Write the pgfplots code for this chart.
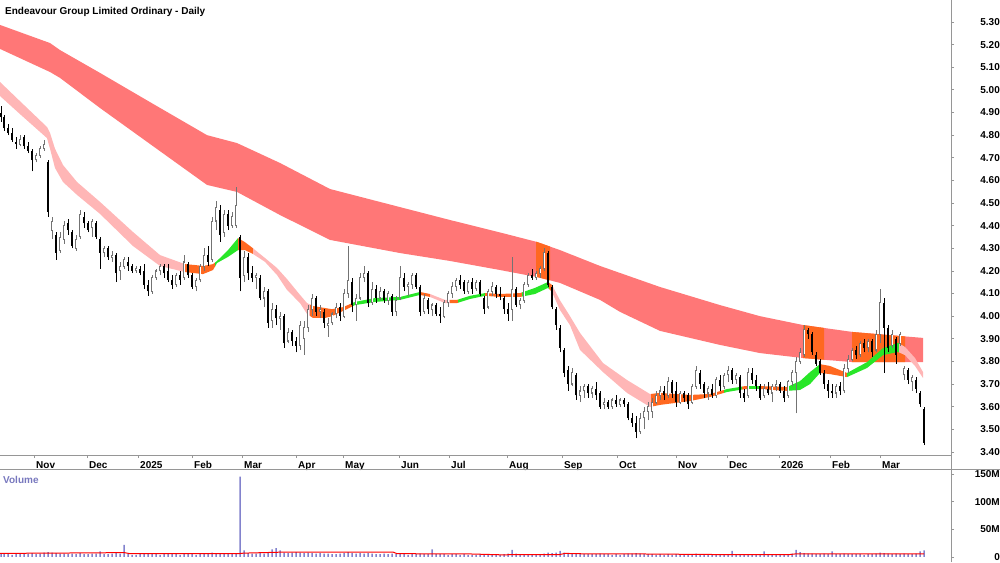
\documentclass[border=0pt]{standalone}
\usepackage{fontspec}
\setmainfont{Liberation Sans}
\usepackage{pgfplots}
\usepackage{pgfplotstable}
\pgfplotsset{compat=1.18}
\usepgfplotslibrary{fillbetween}

\definecolor{bandred}{RGB}{255,119,119}
\definecolor{bandpink}{RGB}{255,182,182}
\definecolor{bandorange}{RGB}{255,104,32}
\definecolor{bandgreen}{RGB}{40,230,40}
\definecolor{volblue}{RGB}{130,130,205}
\definecolor{framegray}{RGB}{150,150,150}
\definecolor{volumetext}{RGB}{120,120,190}

\pgfplotstableread{
x o h l c v
1 4.90 4.93 4.86 4.88 5
4 4.88 4.89 4.82 4.83 6
8 4.83 4.85 4.80 4.81 5
12 4.81 4.83 4.77 4.78 4
16 4.77 4.79 4.74 4.76 5
20 4.76 4.80 4.75 4.78 6
24 4.79 4.80 4.74 4.75 5
28 4.75 4.77 4.72 4.73 6
32 4.73 4.74 4.64 4.69 7
36 4.69 4.72 4.68 4.71 5
40 4.71 4.75 4.70 4.74 6
44 4.74 4.78 4.73 4.76 8
48 4.68 4.69 4.44 4.46 9
52 4.38 4.44 4.34 4.42 8
56 4.36 4.37 4.25 4.28 7
60 4.29 4.37 4.28 4.35 6
64 4.34 4.42 4.32 4.40 6
68 4.41 4.43 4.36 4.38 5
72 4.37 4.38 4.30 4.31 6
76 4.30 4.36 4.29 4.34 5
80 4.35 4.47 4.34 4.45 7
84 4.44 4.46 4.39 4.41 5
88 4.41 4.42 4.37 4.38 5
92 4.39 4.43 4.35 4.42 6
96 4.41 4.42 4.34 4.35 6
100 4.34 4.35 4.21 4.28 10
104 4.28 4.31 4.26 4.30 5
108 4.30 4.31 4.25 4.26 5
112 4.26 4.29 4.24 4.27 6
116 4.27 4.28 4.15 4.19 7
120 4.20 4.24 4.16 4.22 6
124 4.22 4.26 4.21 4.25 22
128 4.24 4.26 4.20 4.22 5
132 4.22 4.23 4.19 4.20 4
136 4.20 4.22 4.19 4.21 4
140 4.21 4.22 4.18 4.19 5
144 4.20 4.23 4.12 4.14 6
148 4.14 4.16 4.09 4.11 6
152 4.11 4.18 4.10 4.17 5
156 4.17 4.21 4.16 4.20 5
160 4.20 4.23 4.18 4.22 4
164 4.22 4.23 4.17 4.19 5
168 4.20 4.23 4.15 4.16 5
172 4.16 4.18 4.12 4.14 6
176 4.14 4.19 4.13 4.18 5
180 4.18 4.20 4.14 4.16 4
184 4.17 4.27 4.16 4.24 6
188 4.23 4.24 4.17 4.18 5
192 4.18 4.19 4.12 4.13 5
196 4.13 4.17 4.11 4.16 4
200 4.16 4.23 4.15 4.22 5
204 4.22 4.30 4.20 4.27 6
208 4.27 4.31 4.22 4.24 5
212 4.25 4.44 4.24 4.42 8
216 4.42 4.51 4.38 4.48 7
220 4.47 4.49 4.33 4.36 6
224 4.37 4.47 4.35 4.45 6
228 4.45 4.47 4.38 4.40 5
232 4.40 4.46 4.39 4.44 6
236 4.40 4.57 4.39 4.49 7
240 4.35 4.36 4.11 4.17 145
244 4.18 4.29 4.15 4.26 12
248 4.26 4.28 4.16 4.19 7
252 4.19 4.22 4.15 4.17 6
256 4.17 4.19 4.12 4.18 6
260 4.17 4.18 4.07 4.08 7
264 4.08 4.13 4.04 4.11 6
268 4.11 4.12 3.95 3.97 9
272 3.98 4.06 3.95 4.03 14
276 4.03 4.05 3.96 3.99 16
280 3.99 4.02 3.94 4.00 12
284 4.00 4.01 3.86 3.88 8
288 3.89 3.95 3.88 3.93 7
292 3.93 3.94 3.87 3.89 8
296 3.89 3.91 3.84 3.87 9
300 3.87 3.98 3.85 3.96 8
304 3.90 3.98 3.83 3.95 7
308 3.95 4.05 3.93 4.03 8
312 4.03 4.10 4.00 4.08 7
316 4.08 4.09 4.00 4.02 6
320 4.02 4.05 3.99 4.03 7
324 4.02 4.03 3.95 3.97 6
328 3.96 3.99 3.91 3.97 6
332 3.97 4.02 3.96 4.01 5
336 4.01 4.06 3.99 4.04 5
340 4.04 4.06 3.98 4.00 6
344 4.00 4.12 3.99 4.10 7
348 4.10 4.31 4.08 4.16 9
352 4.15 4.17 4.02 4.05 7
356 4.05 4.10 3.98 4.08 6
360 4.08 4.19 4.07 4.17 7
364 4.17 4.22 4.15 4.19 6
368 4.19 4.20 4.04 4.06 7
372 4.06 4.15 4.05 4.12 6
376 4.12 4.14 4.06 4.08 5
380 4.08 4.13 4.07 4.11 5
384 4.11 4.12 4.06 4.07 6
388 4.07 4.11 4.05 4.10 5
392 4.09 4.10 4.00 4.02 6
396 4.02 4.09 4.00 4.07 5
400 4.08 4.22 4.07 4.17 6
404 4.17 4.19 4.11 4.13 5
408 4.13 4.15 4.09 4.14 4
412 4.14 4.19 4.12 4.18 5
416 4.18 4.19 4.12 4.13 5
420 4.13 4.14 4.00 4.02 6
424 4.02 4.10 4.01 4.08 5
428 4.07 4.08 4.01 4.03 5
432 4.03 4.06 4.00 4.05 14
436 4.05 4.06 4.00 4.01 5
440 4.01 4.04 3.97 4.00 5
444 4.00 4.07 3.99 4.06 5
448 4.06 4.11 4.04 4.10 4
452 4.10 4.15 4.08 4.13 5
456 4.13 4.17 4.11 4.16 5
460 4.16 4.18 4.12 4.14 4
464 4.15 4.16 4.10 4.11 5
468 4.11 4.16 4.10 4.15 4
472 4.15 4.17 4.10 4.12 4
476 4.12 4.16 4.11 4.15 4
480 4.15 4.16 4.09 4.10 5
484 4.08 4.09 4.01 4.03 5
488 4.04 4.12 4.03 4.11 4
492 4.11 4.15 4.09 4.13 4
496 4.13 4.14 4.08 4.10 4
500 4.10 4.13 4.07 4.09 4
504 4.08 4.09 4.01 4.03 5
508 4.03 4.06 3.98 4.01 6
512 4.03 4.26 3.98 4.12 13
516 4.12 4.13 4.04 4.05 6
520 4.05 4.08 4.03 4.07 5
524 4.07 4.15 4.06 4.14 5
528 4.14 4.19 4.13 4.18 5
532 4.18 4.21 4.16 4.17 4
536 4.17 4.20 4.16 4.19 5
540 4.19 4.22 4.17 4.21 5
544 4.21 4.30 4.20 4.28 6
548 4.28 4.29 4.13 4.14 8
552 4.13 4.14 4.03 4.04 7
556 4.03 4.04 3.94 3.96 8
560 3.95 3.96 3.84 3.86 11
564 3.85 3.86 3.73 3.75 8
568 3.76 3.78 3.67 3.70 7
572 3.70 3.77 3.69 3.75 6
576 3.74 3.75 3.63 3.65 7
580 3.65 3.69 3.62 3.67 6
584 3.67 3.70 3.64 3.69 5
588 3.69 3.70 3.64 3.66 5
592 3.66 3.69 3.64 3.68 5
596 3.68 3.71 3.63 3.65 5
600 3.66 3.67 3.59 3.60 6
604 3.61 3.64 3.59 3.62 5
608 3.62 3.63 3.59 3.60 5
612 3.60 3.64 3.59 3.63 4
616 3.63 3.65 3.60 3.61 5
620 3.61 3.64 3.60 3.63 4
624 3.63 3.64 3.60 3.61 5
628 3.61 3.62 3.54 3.55 6
632 3.55 3.57 3.51 3.53 6
636 3.53 3.56 3.46 3.49 7
640 3.49 3.57 3.48 3.55 6
644 3.55 3.60 3.50 3.58 5
648 3.58 3.62 3.54 3.60 5
652 3.58 3.64 3.55 3.62 5
656 3.62 3.67 3.61 3.65 4
660 3.65 3.69 3.63 3.67 5
664 3.67 3.69 3.63 3.65 4
668 3.65 3.73 3.64 3.71 5
672 3.71 3.72 3.64 3.66 4
676 3.67 3.71 3.60 3.62 5
680 3.62 3.67 3.61 3.66 4
684 3.66 3.67 3.62 3.64 4
688 3.65 3.66 3.59 3.61 5
692 3.62 3.70 3.61 3.69 5
696 3.69 3.78 3.68 3.76 6
700 3.75 3.76 3.68 3.70 5
704 3.70 3.71 3.64 3.66 4
708 3.66 3.69 3.63 3.68 4
712 3.68 3.70 3.64 3.65 4
716 3.65 3.73 3.64 3.72 4
720 3.72 3.74 3.67 3.69 4
724 3.69 3.75 3.68 3.74 4
728 3.74 3.78 3.71 3.76 5
732 3.76 3.77 3.70 3.72 11
736 3.72 3.75 3.70 3.74 4
740 3.73 3.74 3.64 3.66 4
744 3.66 3.68 3.62 3.64 4
748 3.65 3.77 3.64 3.75 5
752 3.75 3.77 3.70 3.72 4
756 3.72 3.74 3.67 3.69 4
760 3.69 3.70 3.63 3.64 5
764 3.65 3.70 3.64 3.68 10
768 3.68 3.71 3.65 3.66 4
772 3.66 3.70 3.62 3.69 4
776 3.69 3.72 3.67 3.70 4
780 3.70 3.71 3.66 3.67 4
784 3.67 3.69 3.62 3.64 5
788 3.65 3.72 3.64 3.71 5
792 3.71 3.76 3.69 3.75 6
796 3.75 3.82 3.57 3.80 13
800 3.80 3.86 3.79 3.84 9
804 3.83 3.96 3.82 3.94 7
808 3.94 3.95 3.90 3.92 6
812 3.92 3.93 3.83 3.84 6
816 3.83 3.84 3.78 3.79 5
820 3.80 3.81 3.74 3.75 5
824 3.75 3.76 3.68 3.70 6
828 3.70 3.72 3.64 3.67 5
832 3.67 3.70 3.64 3.66 10
836 3.66 3.70 3.64 3.69 5
840 3.69 3.71 3.65 3.67 5
844 3.67 3.79 3.66 3.77 6
848 3.77 3.83 3.75 3.81 5
852 3.81 3.86 3.80 3.85 5
856 3.85 3.87 3.81 3.83 5
860 3.83 3.89 3.82 3.88 5
864 3.88 3.90 3.84 3.86 4
868 3.86 3.90 3.84 3.89 5
872 3.89 3.90 3.82 3.84 5
876 3.85 3.94 3.84 3.92 6
880 3.92 4.12 3.88 4.06 8
884 4.06 4.08 3.75 3.95 7
888 3.95 3.96 3.84 3.86 6
892 3.87 3.94 3.86 3.92 5
896 3.90 3.91 3.79 3.83 6
900 3.88 3.93 3.87 3.92 5
904 3.74 3.78 3.72 3.77 6
908 3.76 3.77 3.70 3.72 5
912 3.71 3.74 3.67 3.73 5
916 3.72 3.73 3.66 3.68 6
920 3.66 3.67 3.60 3.61 10
924 3.59 3.60 3.43 3.44 12
}\candles

\pgfplotstableread{
x t b
0 5.287 5.181
50 5.207 5.079
60 5.176 5.053
100 5.075 4.920
150 4.946 4.761
207 4.800 4.580
237 4.765 4.549
280 4.677 4.447
330 4.562 4.337
400 4.482 4.279
450 4.425 4.244
500 4.370 4.204
537 4.328 4.173
560 4.292 4.147
600 4.222 4.072
620 4.191 4.019
660 4.129 3.935
720 4.049 3.873
760 4.000 3.837
803 3.961 3.815
853 3.930 3.797
923 3.904 3.797
}\slowband

\pgfplotstableread{
x t b
0 5.035 4.973
20 4.950 4.893
47 4.836 4.787
50 4.810 4.740
55 4.740 4.655
63 4.668 4.593
77 4.593 4.536
100 4.505 4.452
133 4.372 4.310
160 4.270 4.222
185 4.230 4.195
195 4.226 4.190
203 4.222 4.186
213 4.230 4.204
217 4.244 4.235
228 4.292 4.262
238 4.345 4.292
245 4.327 4.292
253 4.300 4.275
265 4.257 4.240
277 4.213 4.182
287 4.164 4.116
300 4.094 4.058
307 4.058 4.010
313 4.045 3.992
325 4.036 3.992
332 4.031 4.000
343 4.040 4.023
355 4.063 4.049
375 4.080 4.063
400 4.085 4.072
420 4.107 4.094
430 4.098 4.085
445 4.072 4.058
457 4.072 4.058
470 4.090 4.076
485 4.102 4.090
500 4.098 4.085
520 4.102 4.085
535 4.125 4.098
548 4.151 4.125
552 4.138 4.107
560 4.070 4.027
570 4.000 3.960
580 3.926 3.851
603 3.793 3.753
627 3.718 3.661
650 3.656 3.599
660 3.661 3.608
690 3.652 3.625
710 3.656 3.643
727 3.678 3.665
745 3.691 3.678
760 3.691 3.678
787 3.687 3.670
800 3.713 3.674
810 3.753 3.700
820 3.788 3.749
830 3.780 3.744
847 3.749 3.731
867 3.797 3.771
883 3.859 3.828
898 3.882 3.842
905 3.864 3.828
915 3.815 3.780
923 3.753 3.727
}\fastband

\pgfplotstableread{
x v
0 6.5
48 7
96 7.5
124 8
130 6
238 6
244 7
287 9
393 9
397 6
470 5.5
500 4
560 4.5
565 6.5
590 5.5
640 5.5
713 4.5
790 4.5
795 5.5
924 5.5
}\volma

\newcommand{\sseg}[3]{\addplot[fill=#1, draw=none] fill between[of=sT and sB, soft clip={(axis cs:#2,3.3) rectangle (axis cs:#3,5.5)}];}
\newcommand{\fseg}[3]{\addplot[fill=#1, draw=none] fill between[of=fT and fB, soft clip={(axis cs:#2,3.3) rectangle (axis cs:#3,5.5)}];}

\begin{document}
\begin{tikzpicture}
\begin{axis}[
  at={(0pt,107pt)}, anchor=south west, scale only axis,
  width=951pt, height=455pt,
  xmin=0, xmax=951, ymin=3.3866, ymax=5.3972,
  axis x line*=bottom, axis y line*=right, axis line style={draw=none},
  tick align=outside, major tick length=3pt,
  tick style={framegray, line width=0.8pt},
  xtick={34,87,138,192,242,296,343,399,449,507,562,617,676,727,779,830,880},
  xticklabels={Nov,Dec,2025,Feb,Mar,Apr,May,Jun,Jul,Aug,Sep,Oct,Nov,Dec,2026,Feb,Mar},
  xticklabel style={anchor=base west, inner sep=0pt, xshift=2pt, yshift=-10.5pt, font=\fontsize{10}{12}\selectfont\bfseries},
  ytick={3.4,3.5,3.6,3.7,3.8,3.9,4.0,4.1,4.2,4.3,4.4,4.5,4.6,4.7,4.8,4.9,5.0,5.1,5.2,5.3},
  /pgf/number format/assume math mode=true,
  yticklabel={\pgfmathprintnumber[fixed,fixed zerofill,precision=2]{\tick}},
  yticklabel style={anchor=east, inner sep=0pt, xshift=46pt, font=\fontsize{10}{12}\selectfont\bfseries},
]
% slow (long-term) band
\addplot[draw=none, name path=sT, forget plot] table[x=x,y=t]{\slowband};
\addplot[draw=none, name path=sB, forget plot] table[x=x,y=b]{\slowband};
\addplot[fill=bandred, draw=none] fill between[of=sT and sB];
\sseg{bandorange}{536}{550}
\sseg{bandorange}{803}{824}
\sseg{bandorange}{852}{905}
% fast (short-term) band
\addplot[draw=none, name path=fT, forget plot] table[x=x,y=t]{\fastband};
\addplot[draw=none, name path=fB, forget plot] table[x=x,y=b]{\fastband};
\fseg{bandpink}{0}{185}
\fseg{bandorange}{185}{215}
\fseg{bandgreen}{215}{238}
\fseg{bandorange}{238}{253}
\fseg{bandpink}{253}{310}
\fseg{bandorange}{310}{352}
\fseg{bandgreen}{352}{420}
\fseg{bandorange}{420}{430}
\fseg{bandpink}{430}{450}
\fseg{bandorange}{450}{458}
\fseg{bandgreen}{458}{485}
\fseg{bandorange}{485}{522}
\fseg{bandgreen}{522}{549}
\fseg{bandorange}{549}{553}
\fseg{bandpink}{553}{651}
\fseg{bandorange}{651}{724}
\fseg{bandgreen}{724}{742}
\fseg{bandorange}{742}{747}
\fseg{bandgreen}{747}{760}
\fseg{bandorange}{760}{789}
\fseg{bandgreen}{789}{821}
\fseg{bandorange}{821}{847}
\fseg{bandgreen}{847}{899}
\fseg{bandpink}{899}{923}
% wicks: up candles
\addplot[black!55, line width=0.8pt, forget plot,
  quiver={u=0, v={(\thisrow{h}-\thisrow{l})*(\thisrow{c}-\thisrow{o}>-0.001)},
    every arrow/.append style={draw=black!55, line width=0.8pt, line cap=butt}}]
  table[x=x, y=l]{\candles};
% wicks: down candles
\addplot[black, line width=0.8pt, forget plot,
  quiver={u=0, v={(\thisrow{h}-\thisrow{l})*(\thisrow{o}-\thisrow{c}>0.001)},
    every arrow/.append style={draw=black, line width=0.8pt, line cap=butt}}]
  table[x=x, y=l]{\candles};
% bodies: up candles (hollow)
\addplot[black!55, line width=2.4pt, forget plot,
  quiver={u=0, v={(\thisrow{c}-\thisrow{o}+0.004)*(\thisrow{c}-\thisrow{o}>-0.001)},
    every arrow/.append style={draw=black!55, line width=2.4pt, line cap=butt}}]
  table[x=x, y expr={\thisrow{o}-0.002}]{\candles};
\addplot[white, line width=0.9pt, forget plot,
  quiver={u=0, v={max(\thisrow{c}-\thisrow{o}-0.006,0)*(\thisrow{c}-\thisrow{o}>-0.001)},
    every arrow/.append style={draw=white, line width=0.9pt, line cap=butt}}]
  table[x=x, y expr={\thisrow{o}+0.003}]{\candles};
% bodies: down candles
\addplot[black, line width=2.4pt, forget plot,
  quiver={u=0, v={(\thisrow{o}-\thisrow{c})*(\thisrow{o}-\thisrow{c}>0.001)},
    every arrow/.append style={draw=black, line width=2.4pt, line cap=butt}}]
  table[x=x, y=c]{\candles};
\end{axis}

\begin{axis}[
  at={(0pt,0pt)}, anchor=south west, scale only axis,
  width=951pt, height=93pt,
  xmin=0, xmax=951, ymin=-9.04, ymax=159,
  axis x line*=bottom, axis y line*=right, axis line style={draw=none},
  xtick=\empty,
  tick align=outside, major tick length=3pt,
  tick style={framegray, line width=0.8pt},
  ytick={0,50,100,150}, yticklabels={0,50M,100M,150M},
  yticklabel style={anchor=east, inner sep=0pt, xshift=46pt, font=\fontsize{10}{12}\selectfont\bfseries},
]
\addplot[ybar, bar width=1.5pt, bar shift=0pt, fill=volblue, draw=none] table[x=x,y=v]{\candles};
\addplot[red, line width=1pt] table[x=x,y=v]{\volma};
\end{axis}

\draw[framegray, line width=1pt] (951pt,0pt) -- (951pt,562pt);
\draw[framegray, line width=1pt] (0pt,107pt) -- (951pt,107pt);
\draw[framegray, line width=1pt] (0pt,93pt) -- (1000pt,93pt);
\node[anchor=base west, inner sep=0pt, font=\fontsize{10}{12}\selectfont\bfseries] at (5pt,547.5pt) {Endeavour Group Limited Ordinary - Daily};
\node[anchor=base west, inner sep=0pt, font=\fontsize{10}{12}\selectfont\bfseries, text=volumetext] at (3pt,79pt) {Volume};
\pgfresetboundingbox
\path[use as bounding box] (0pt,0pt) rectangle (1000pt,562pt);
\end{tikzpicture}
\end{document}
